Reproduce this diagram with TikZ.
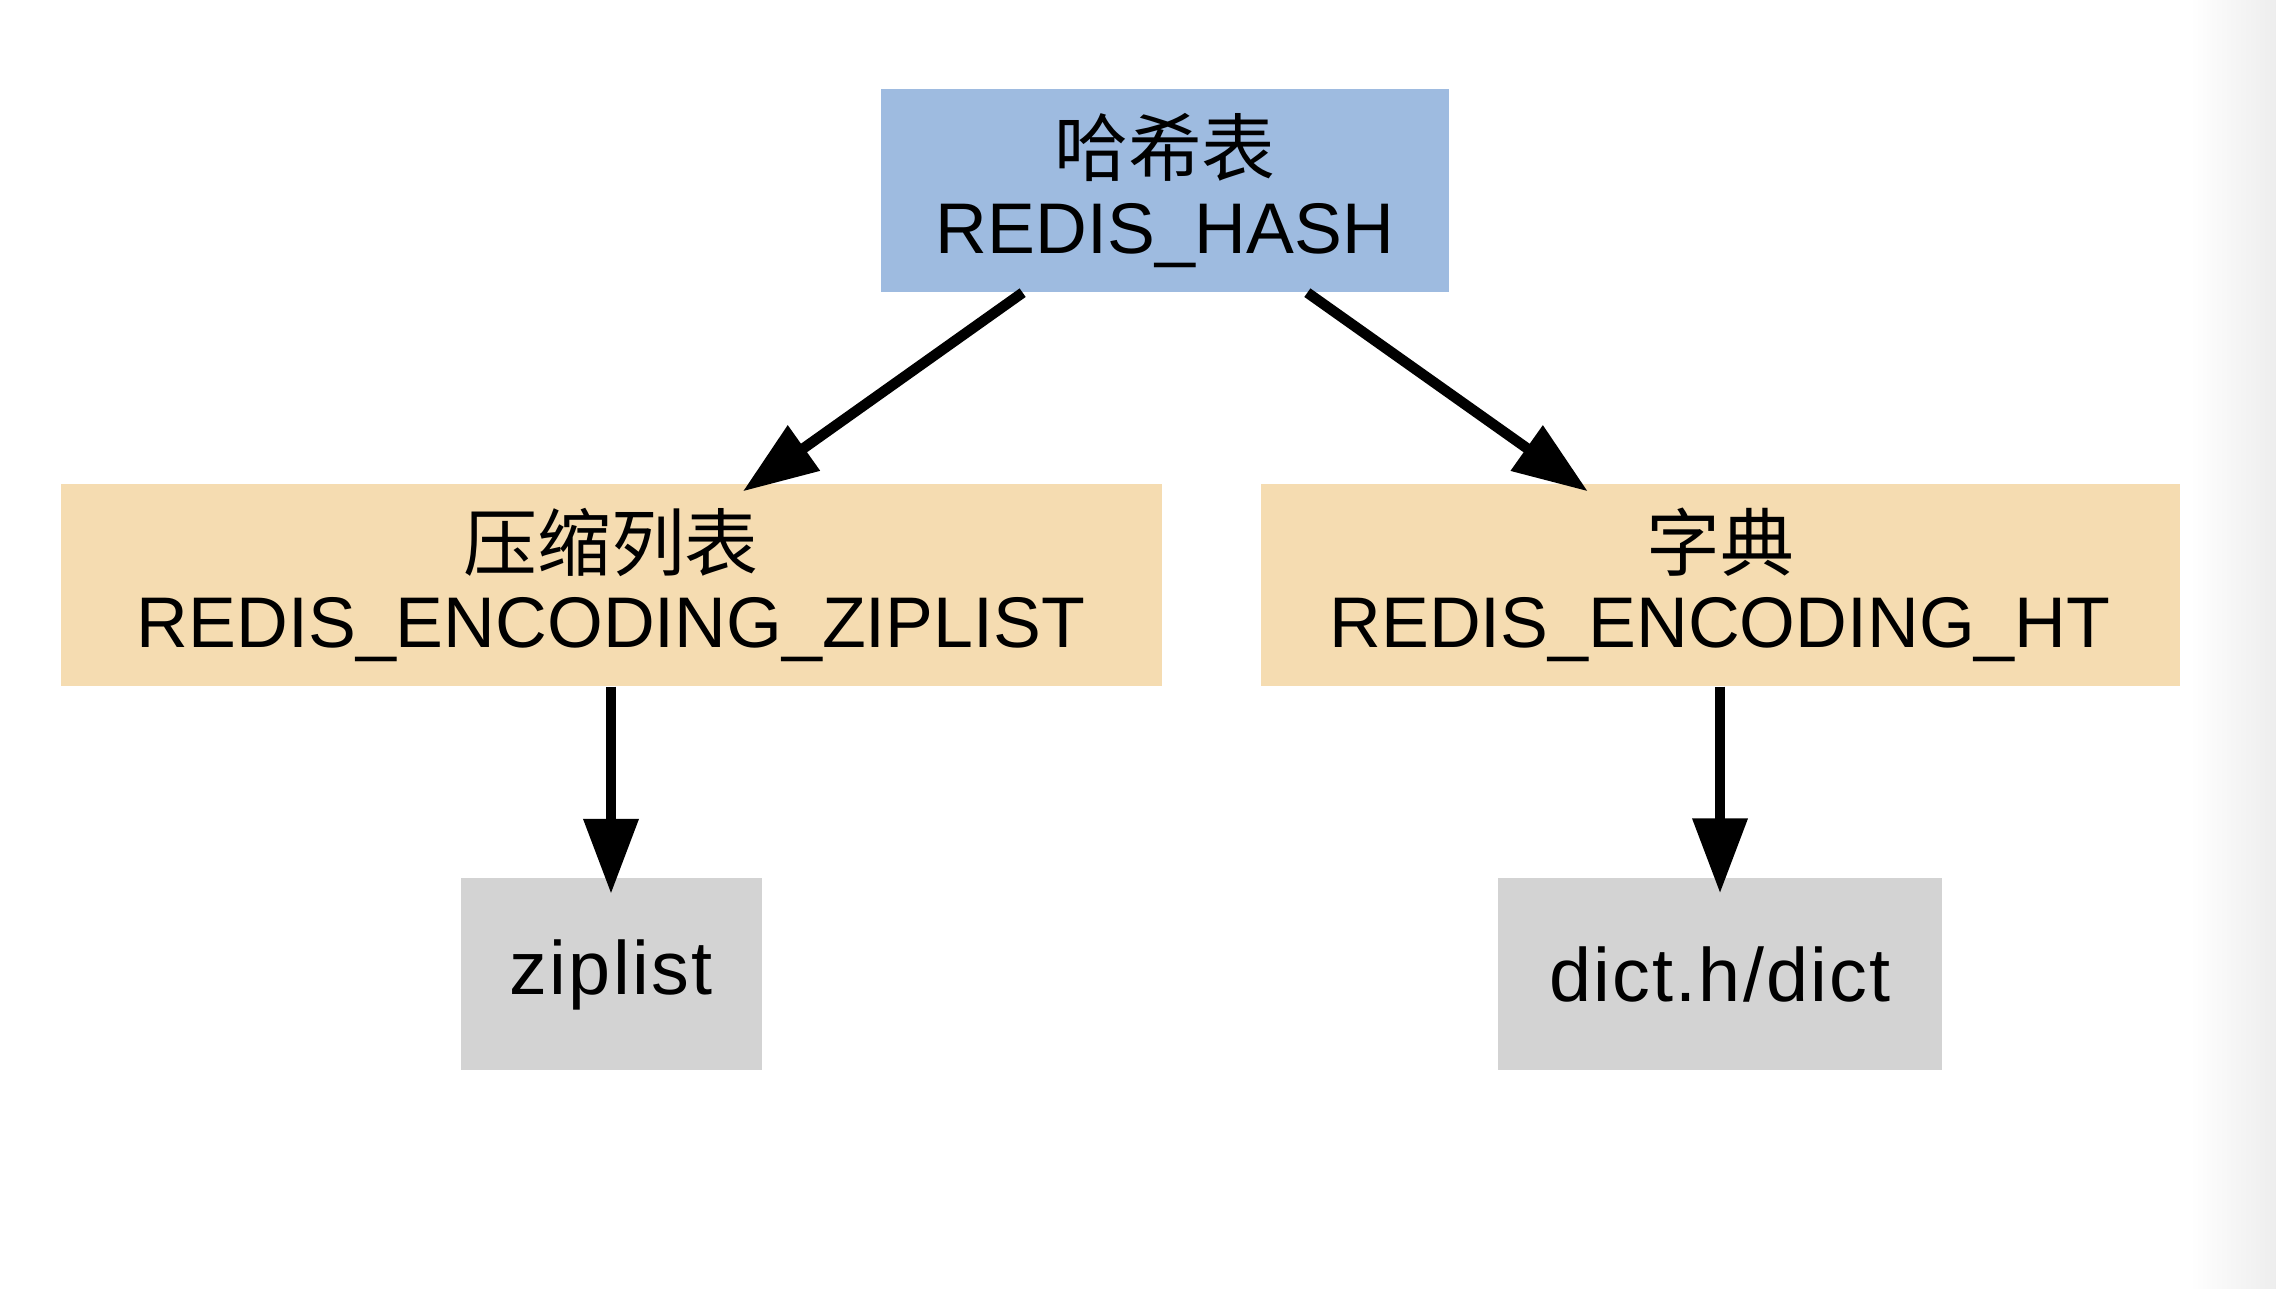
\documentclass[tikz,border=0pt]{standalone}
\usepackage{fontspec}
\setmainfont{Liberation Sans}
\newfontfamily\cjk[Scale=1.03]{Noto Sans CJK SC}
\usetikzlibrary{arrows.meta,calc}
\definecolor{hblue}{RGB}{158,187,224}
\definecolor{hsand}{RGB}{245,220,177}
\definecolor{hgray}{RGB}{211,211,211}
\tikzset{
  obj/.style  ={rectangle, fill=hblue, align=center, inner sep=0pt,
                minimum width=5.68cm, minimum height=2.03cm,
                font=\fontsize{20.4}{22}\selectfont},
  enc/.style  ={obj, fill=hsand, minimum height=2.02cm},
  impl/.style ={obj, fill=hgray, minimum height=1.92cm,
                font=\fontsize{21.5}{22}\selectfont\addfontfeatures{LetterSpace=3}},
  ar/.style   ={-{Triangle[length=0.75cm, width=0.53cm]}, line width=0.105cm,
                shorten >=-0.14cm}
}
\begin{document}
\begin{tikzpicture}
\fill[white] (0,0) rectangle (22.76,12.88);
\shade[left color=white, right color=black!7] (21.9,0) rectangle (22.76,12.88);
\useasboundingbox (0,0) rectangle (22.76,12.88);

\node[obj] (hash) at (11.65,10.975) {{\cjk 哈希表}\\REDIS\_HASH};

\node[enc, minimum width=11.01cm] (zip) at (6.11,7.03)
  {{\cjk 压缩列表}\\REDIS\_ENCODING\_ZIPLIST};
\node[enc, minimum width=9.19cm] (ht) at (17.20,7.03)
  {{\cjk 字典}\\REDIS\_ENCODING\_HT};

\node[impl, minimum width=3.01cm] (zl) at (6.11,3.135) {ziplist};
\node[impl, minimum width=4.44cm] (dc) at (17.20,3.14) {dict.h/dict};

\draw[ar] ($(hash.south west)!0.25!(hash.south east)$) -- (zip);
\draw[ar] ($(hash.south west)!0.75!(hash.south east)$) -- (ht);
\foreach \a/\b in {zip/zl,ht/dc}{\draw[ar, shorten >=-0.16cm] (\a) -- (\b);}
\end{tikzpicture}
\end{document}
